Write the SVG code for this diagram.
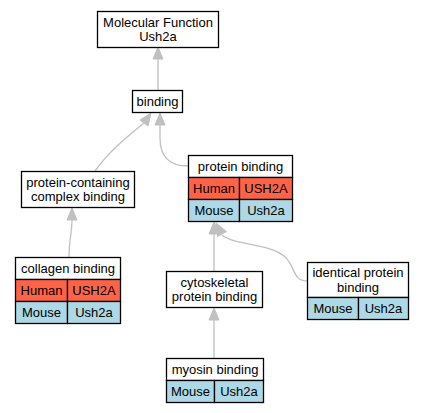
<svg xmlns="http://www.w3.org/2000/svg" width="424" height="413" viewBox="0 0 424 413">
<style>
text{font-family:"Liberation Sans",Arial,sans-serif;font-size:13px;text-anchor:middle;fill:#000}
.b{fill:#fff;stroke:#000;stroke-width:1.3}
.h{fill:#ff6347;stroke:#000;stroke-width:1.3}
.m{fill:#add8e6;stroke:#000;stroke-width:1.3}
.e{fill:none;stroke:#c0c0c0;stroke-width:1.3}
.a{fill:#c0c0c0;stroke:#c0c0c0;stroke-width:1}
</style>
<rect width="424" height="413" fill="#fff"/>
<g id="edges">
<path class="e" d="M158,90 L158,59"/>
<polygon class="a" points="153,59 158,47 163,59"/>
<path class="e" d="M95,171 C110,150 128,136 144,123"/>
<polygon class="a" points="148.1,125.9 151,113 139.9,120.1"/>
<path class="e" d="M188,166 C170,166 160,157 160,138 L160,125"/>
<polygon class="a" points="155,125 160,113 165,125"/>
<path class="e" d="M69,257 C69,240 72,232 72,220"/>
<polygon class="a" points="67,220 72,208 77,220"/>
<path class="e" d="M214,271 L214,234"/>
<polygon class="a" points="209,234 214,222 219,234"/>
<path class="e" d="M307,281 C292,281 296,266 284,256 C268,243 236,246 222,235"/>
<polygon class="a" points="226.4,231.6 216,223 217.6,236.4"/>
<path class="e" d="M214,358 L214,320"/>
<polygon class="a" points="209,320 214,308 219,320"/>
</g>
<g id="mf">
<rect class="b" x="97.5" y="11.5" width="121" height="36"/>
<text x="158" y="26.5">Molecular Function</text>
<text x="158" y="41">Ush2a</text>
</g>
<g id="binding">
<rect class="b" x="132.5" y="90.5" width="50" height="22"/>
<text x="157.5" y="106">binding</text>
</g>
<g id="pcb">
<rect class="b" x="21.5" y="171.5" width="113" height="36"/>
<text x="78" y="186.5">protein-containing</text>
<text x="78" y="201">complex binding</text>
</g>
<g id="pb">
<rect class="b" x="188.5" y="155.5" width="104" height="22"/>
<rect class="h" x="188.5" y="177.5" width="51" height="22"/>
<rect class="h" x="239.5" y="177.5" width="53" height="22"/>
<rect class="m" x="188.5" y="199.5" width="51" height="22"/>
<rect class="m" x="239.5" y="199.5" width="53" height="22"/>
<text x="240.5" y="171">protein binding</text>
<text x="214" y="193">Human</text>
<text x="266" y="193">USH2A</text>
<text x="214" y="215">Mouse</text>
<text x="266" y="215">Ush2a</text>
</g>
<g id="collagen">
<rect class="b" x="15.5" y="257.5" width="105" height="22"/>
<rect class="h" x="15.5" y="279.5" width="52" height="22"/>
<rect class="h" x="67.5" y="279.5" width="53" height="22"/>
<rect class="m" x="15.5" y="301.5" width="52" height="22"/>
<rect class="m" x="67.5" y="301.5" width="53" height="22"/>
<text x="68" y="273">collagen binding</text>
<text x="41.5" y="295">Human</text>
<text x="94" y="295">USH2A</text>
<text x="41.5" y="317">Mouse</text>
<text x="94" y="317">Ush2a</text>
</g>
<g id="cyto">
<rect class="b" x="166.5" y="271.5" width="96" height="36"/>
<text x="214.5" y="286.5">cytoskeletal</text>
<text x="214.5" y="301">protein binding</text>
</g>
<g id="identical">
<rect class="b" x="307.5" y="262.5" width="101" height="35"/>
<rect class="m" x="307.5" y="297.5" width="51" height="22"/>
<rect class="m" x="358.5" y="297.5" width="50" height="22"/>
<text x="358" y="277">identical protein</text>
<text x="358" y="291.5">binding</text>
<text x="333" y="313">Mouse</text>
<text x="383.5" y="313">Ush2a</text>
</g>
<g id="myosin">
<rect class="b" x="166.5" y="358.5" width="97" height="22"/>
<rect class="m" x="166.5" y="380.5" width="48" height="22"/>
<rect class="m" x="214.5" y="380.5" width="49" height="22"/>
<text x="215" y="374">myosin binding</text>
<text x="190.5" y="396">Mouse</text>
<text x="239" y="396">Ush2a</text>
</g>
</svg>
